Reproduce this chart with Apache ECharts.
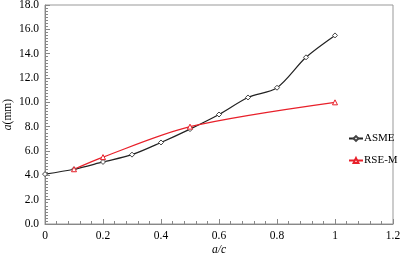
<!DOCTYPE html>
<html>
<head>
<meta charset="utf-8">
<script src="https://cdn.jsdelivr.net/npm/echarts@6/dist/echarts.min.js"></script>
<style>
html, body { margin: 0; padding: 0; background: #fff; }
#chart { width: 400px; height: 255px; }
</style>
</head>
<body>
<div id="chart"></div>
<script>
// a/c 值
var asmeX = [0, 0.1, 0.2, 0.3, 0.4, 0.5, 0.6, 0.7, 0.8, 0.9, 1.0];
var asmeY = [4.1, 4.5, 5.1, 5.7, 6.7, 7.8, 9.0, 10.4, 11.2, 13.7, 15.5];
var rseX = [0.1, 0.2, 0.5, 1.0];
var rseY = [4.5, 5.5, 8.0, 10.0];
var seriesNames = ["ASME", "RSE-M"];

function pairs (xs, ys) {
    return xs.map(function (x, i) { return [x, ys[i]]; });
}

var font = "'Liberation Serif', 'Times New Roman', serif";
var axisGray = "#888";

var myChart = echarts.init(document.getElementById("chart"));
var option = {
    animation: false,
    textStyle: { fontFamily: font },
    grid: {
        left: 45,
        right: 7,
        top: 5,
        bottom: 31,
        containLabel: false,
        outerBoundsMode: "none",
        show: true,
        borderColor: "#999",
        borderWidth: 1
    },
    legend: {
        orient: "vertical",
        left: 343,
        top: 128,
        itemWidth: 14,
        itemHeight: 6,
        itemGap: 11,
        textStyle: { fontFamily: font, fontSize: 11, color: "#000", padding: [0, 0, 0, -4] },
        data: seriesNames
    },
    xAxis: {
        type: "value",
        min: 0,
        max: 1.2,
        interval: 0.2,
        name: "a/c",
        nameLocation: "middle",
        nameMoveOverlap: false,
        nameGap: 20,
        nameTextStyle: { fontFamily: font, fontSize: 11.5, fontStyle: "italic", color: "#000" },
        axisLine: { onZero: false, lineStyle: { color: axisGray } },
        axisTick: { inside: true, length: 5, lineStyle: { color: axisGray } },
        minorTick: { show: true, splitNumber: 5, length: 3, lineStyle: { color: axisGray } },
        splitLine: { show: false },
        axisLabel: {
            fontFamily: font, fontSize: 11.5, color: "#000", margin: 6,
            formatter: function (v) { return v === 0 || v === 1 ? String(v) : v.toFixed(1); }
        }
    },
    yAxis: {
        type: "value",
        min: 0,
        max: 18,
        interval: 2,
        name: "{i|a}(mm)",
        nameLocation: "middle",
        nameMoveOverlap: false,
        nameGap: 31,
        nameTextStyle: {
            fontFamily: font, fontSize: 11.5, color: "#000",
            rich: { i: { fontFamily: font, fontSize: 11.5, fontStyle: "italic", color: "#000" } }
        },
        axisLine: { onZero: false, lineStyle: { color: axisGray } },
        axisTick: { inside: true, length: 5, lineStyle: { color: axisGray } },
        minorTick: { show: true, splitNumber: 8, length: 3, lineStyle: { color: axisGray } },
        splitLine: { show: false },
        axisLabel: {
            fontFamily: font, fontSize: 11.5, color: "#000", margin: 6,
            formatter: function (v) { return v.toFixed(1); }
        }
    },
    series: [
        {
            name: seriesNames[0],
            type: "line",
            data: pairs(asmeX, asmeY),
            smooth: 0.3,
            symbol: "diamond",
            symbolSize: 5,
            lineStyle: { color: "#222", width: 1.2 },
            itemStyle: { color: "#fff", borderColor: "#444", borderWidth: 1 }
        },
        {
            name: seriesNames[1],
            type: "line",
            data: pairs(rseX, rseY),
            smooth: 0.3,
            symbol: "triangle",
            symbolSize: 5,
            lineStyle: { color: "#e8202a", width: 1.2 },
            itemStyle: { color: "#fff", borderColor: "#e8202a", borderWidth: 1 }
        }
    ]
};
myChart.setOption(option);
</script>
</body>
</html>
